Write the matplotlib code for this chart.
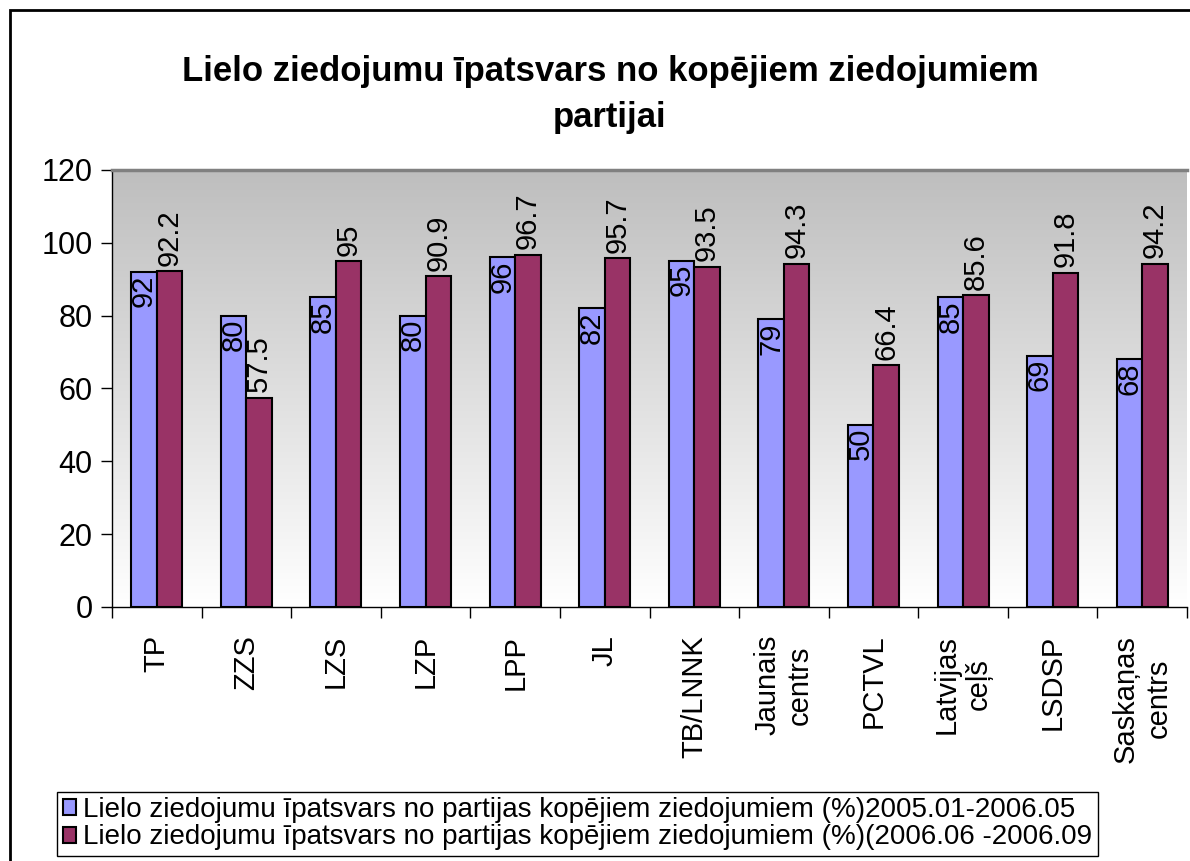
import numpy as np
import matplotlib.pyplot as plt
from matplotlib.patches import Rectangle
from matplotlib.colors import LinearSegmentedColormap

plt.rcParams['font.family'] = ['Liberation Sans', 'DejaVu Sans']

# data
parties = ["TP", "ZZS", "LZS", "LZP", "LPP", "JL", "TB/LNNK", "Jaunais\ncentrs",
           "PCTVL", "Latvijas\nceļš", "LSDSP", "Saskaņas\ncentrs"]
share_2005 = [92, 80, 85, 80, 96, 82, 95, 79, 50, 85, 69, 68]
share_2006 = [92.2, 57.5, 95, 90.9, 96.7, 95.7, 93.5, 94.3, 66.4, 85.6, 91.8, 94.2]
y_ticks = [0, 20, 40, 60, 80, 100, 120]

label_2005 = "Lielo ziedojumu īpatsvars no partijas kopējiem ziedojumiem (%)2005.01-2006.05"
label_2006 = "Lielo ziedojumu īpatsvars no partijas kopējiem ziedojumiem (%)(2006.06 -2006.09"
title = "Lielo ziedojumu īpatsvars no kopējiem ziedojumiem\npartijai"

fig = plt.figure(figsize=(11.9, 8.61), dpi=100)

# outer chart frame
fig.patches.append(Rectangle((10 / 1190, -0.1), 1.2, (861 - 10) / 861 + 0.1,
                             transform=fig.transFigure, fill=False,
                             edgecolor="black", linewidth=2, zorder=0))

ax = fig.add_axes([112 / 1190, 1 - 607 / 861, (1187 - 112) / 1190, (607 - 170) / 861])

# gradient background gray (top) -> white (bottom)
grad = np.linspace(0, 1, 256).reshape(-1, 1)
cmap = LinearSegmentedColormap.from_list("bg", ["#bebebe", "#ffffff"])
ax.imshow(grad, cmap=cmap, aspect="auto", extent=[0, 12, 0, 120],
          origin="upper", zorder=0, interpolation="bicubic")

x = np.arange(len(parties)) + 0.5
w = 0.285
b1 = ax.bar(x - w / 2, share_2005, w, color="#9999ff", edgecolor="black",
            linewidth=1.5, label=label_2005, zorder=2)
b2 = ax.bar(x + w / 2, share_2006, w, color="#993366", edgecolor="black",
            linewidth=1.5, label=label_2006, zorder=2)

for rect, v in zip(b1, share_2005):
    ax.text(rect.get_x() + rect.get_width() / 2, v - 0.8, f"{v:g}", rotation=90,
            ha="center", va="top", fontsize=21, zorder=3)
for rect, v in zip(b2, share_2006):
    ax.text(rect.get_x() + rect.get_width() / 2, v + 1.5, f"{v:g}", rotation=90,
            ha="center", va="bottom", fontsize=21, zorder=3)

ax.set_xlim(0, 12)
ax.set_ylim(0, 120)
ax.set_yticks(y_ticks)
ax.tick_params(axis="y", labelsize=22, direction="out", length=8, width=1, pad=6)

ax.set_xticks(np.arange(13))
ax.set_xticklabels([])
ax.tick_params(axis="x", direction="out", length=8, width=1)
ax.set_xticks(x, minor=True)
ax.set_xticklabels(parties, minor=True, rotation=90, fontsize=21, va="top",
                   ha="center", linespacing=1.2)
ax.tick_params(axis="x", which="minor", length=0, pad=20)

for s in ["left", "bottom"]:
    ax.spines[s].set_color("black")
    ax.spines[s].set_linewidth(1)
ax.spines["top"].set_color("#808080")
ax.spines["top"].set_linewidth(2.5)
ax.spines["right"].set_visible(False)

fig.text(610 / 1190, 1 - 94 / 861, title, ha="center", va="center",
         fontsize=25, fontweight="bold", linespacing=1.5)

fig.legend(loc="lower left", bbox_to_anchor=(57 / 1190, 5 / 861), fontsize=20,
           frameon=True, fancybox=False, edgecolor="black", framealpha=1,
           handlelength=0.5, handleheight=0.5, handletextpad=0.25,
           borderpad=0.2, labelspacing=0.05, borderaxespad=0)

fig.savefig("out.png", dpi=100)
